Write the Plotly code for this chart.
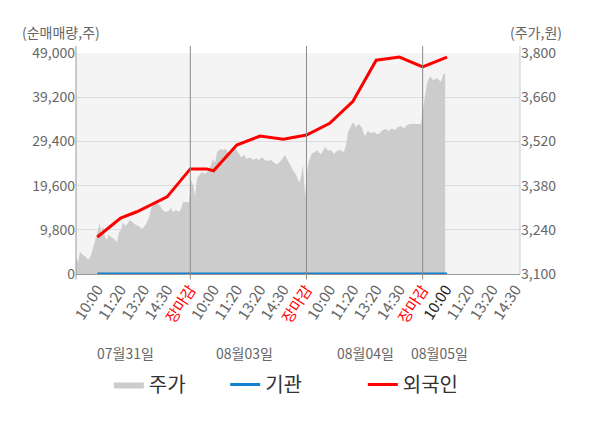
import plotly.graph_objects as go

# x 눈금 (하루 = 5칸)
time_labels = ["10:00", "11:20", "13:20", "14:30", "장마감"]
day_labels = ["07월31일", "08월03일", "08월04일", "08월05일"]
day_label_x = [2.19, 7.35, 12.52, 15.74]
day_close_x = [5, 10, 15]

# 주가 (원)
price_x = [0.08, 0.17, 0.25, 0.38, 0.51, 0.60, 0.73, 0.86, 0.99, 1.11, 1.16, 1.25, 1.33, 1.42,
           1.46, 1.59, 1.72, 1.85, 1.93, 2.02, 2.10, 2.19, 2.28, 2.40, 2.53, 2.66, 2.79, 2.88,
           2.97, 3.09, 3.22, 3.31, 3.44, 3.57, 3.70, 3.83, 3.96, 4.08, 4.17, 4.26, 4.38, 4.51,
           4.60, 4.69, 4.95,
           5.03, 5.12, 5.21, 5.29, 5.42, 5.50, 5.63, 5.76, 5.89, 5.98, 6.07, 6.15, 6.28, 6.41,
           6.54, 6.66, 6.79, 6.93, 7.05, 7.18, 7.31, 7.44, 7.57, 7.70, 7.83, 7.96, 8.08, 8.21,
           8.34, 8.47, 8.60, 8.73, 8.86, 8.99, 9.08, 9.16, 9.29, 9.42, 9.55, 9.64, 9.72, 9.81,
           9.85, 9.94,
           10.03, 10.12, 10.24, 10.37, 10.46, 10.59, 10.67, 10.80, 10.93, 11.06, 11.19, 11.32,
           11.44, 11.61, 11.70, 11.79, 11.92, 12.00, 12.13, 12.26, 12.39, 12.51, 12.64, 12.77,
           12.90, 13.03, 13.16, 13.29, 13.42, 13.55, 13.68, 13.81, 13.94, 14.07, 14.20, 14.33,
           14.46, 14.67, 14.93,
           15.01, 15.09, 15.19, 15.28, 15.36, 15.45, 15.54, 15.62, 15.71, 15.79, 15.88, 15.97]
price_y = [3151, 3138, 3170, 3160, 3154, 3144, 3160, 3195, 3233, 3262, 3230, 3252, 3217, 3208,
           3224, 3217, 3211, 3201, 3233, 3239, 3265, 3252, 3258, 3271, 3262, 3255, 3252, 3243,
           3246, 3258, 3277, 3306, 3322, 3325, 3315, 3300, 3296, 3300, 3309, 3296, 3303, 3296,
           3306, 3328, 3328,
           3398, 3382, 3347, 3404, 3414, 3423, 3417, 3426, 3445, 3464, 3452, 3486, 3496, 3493,
           3496, 3477, 3486, 3499, 3486, 3470, 3477, 3464, 3470, 3461, 3467, 3461, 3470, 3461,
           3458, 3461, 3452, 3448, 3455, 3470, 3477, 3464, 3445, 3429, 3414, 3398, 3391, 3429,
           3445, 3344,
           3429, 3461, 3483, 3486, 3493, 3480, 3483, 3502, 3490, 3493, 3480, 3490,
           3493, 3486, 3508, 3550, 3572, 3581, 3566, 3575, 3562, 3537, 3553, 3547,
           3550, 3543, 3547, 3556, 3559, 3553, 3562, 3556, 3566, 3569, 3562, 3572,
           3575, 3575, 3575,
           3619, 3657, 3705, 3721, 3724, 3714, 3718, 3721, 3714, 3708, 3730, 3737]

# 순매매량 누적 (주)
flow_x = [1, 2, 2.7, 4, 5, 5.7, 6, 7, 8, 9, 10, 11, 12, 13, 14, 15, 16.05]
foreign_y = [8200, 12400, 13800, 17100, 23300, 23300, 22900, 28600, 30600, 29900,
             30800, 33400, 38300, 47400, 48100, 45900, 48100]
inst_y = [0, 0, 0, 0, 0, 0, 0, 0, 0, 0, 0, 0, 0, 0, 0, 0, 0]

vol_ticks = [0, 9800, 19600, 29400, 39200, 49000]
price_ticks = [3100, 3240, 3380, 3520, 3660, 3800]

GRAY = "#666666"
FONT = "Noto Sans CJK KR"

tickvals, ticktext = [], []
for d in range(4):
    n = 5 if d < 3 else 4
    for i in range(n):
        lab = time_labels[i]
        tickvals.append(d * 5 + i + 1)
        if lab == "장마감":
            lab = '<span style="color:#ff0000">' + lab + "</span>"
        elif d == 3 and i == 0:
            lab = '<span style="color:#222222">' + lab + "</span>"
        ticktext.append(lab)

fig = go.Figure()

fig.add_trace(go.Scatter(
    x=price_x, y=price_y, yaxis="y", mode="lines", fill="tozeroy",
    fillcolor="#cccccc", line=dict(width=0, color="#cccccc"), name="주가",
    legend="legend"))

fig.add_trace(go.Scatter(
    x=flow_x, y=inst_y, yaxis="y2", mode="lines",
    line=dict(width=3, color="#1380cf"), name="기관", legend="legend2"))

fig.add_trace(go.Scatter(
    x=flow_x, y=foreign_y, yaxis="y2", mode="lines",
    line=dict(width=3, color="#ff0000"), name="외국인", legend="legend3"))

# 일자 구분선 + 좌우 축선
shapes = []
for xc in day_close_x:
    shapes.append(dict(type="line", xref="x", yref="paper", x0=xc, x1=xc, y0=-0.025, y1=1.032,
                       line=dict(color="#8a8a8a", width=1), layer="above"))
shapes.append(dict(type="line", xref="paper", yref="paper", x0=0, x1=0, y0=-0.025, y1=1.032,
                   line=dict(color="#999999", width=1), layer="above"))
shapes.append(dict(type="line", xref="paper", yref="paper", x0=1, x1=1, y0=0, y1=1.032,
                   line=dict(color="#cccccc", width=1), layer="above"))

annotations = []
for pos, lab in zip(day_label_x, day_labels):
    annotations.append(dict(x=pos, y=-0.357, xref="x", yref="paper", text=lab,
                            yanchor="middle", showarrow=False, font=dict(size=14, color=GRAY)))
annotations.append(dict(x=-0.034, y=1.095, xref="paper", yref="paper", text="(순매매량,주)",
                        xanchor="center", yanchor="middle", showarrow=False,
                        font=dict(size=14, color=GRAY)))
annotations.append(dict(x=1.036, y=1.095, xref="paper", yref="paper", text="(주가,원)",
                        xanchor="center", yanchor="middle", showarrow=False,
                        font=dict(size=14, color=GRAY)))

legend_style = dict(orientation="h", y=-0.50, xanchor="left", yanchor="middle",
                    font=dict(size=20, color="#333333"), itemwidth=30,
                    bgcolor="rgba(0,0,0,0)")

# 페이지 body 여백(8px)만큼 줄인 크기
fig.update_layout(
    width=592, height=420,
    margin=dict(l=68, r=80, t=45, b=154),
    paper_bgcolor="white", plot_bgcolor="#f4f4f4",
    font=dict(family=FONT, color=GRAY, size=14),
    xaxis=dict(range=[0.08, 19.19], tickvals=tickvals, ticktext=ticktext, tickangle=-57,
               showgrid=False, zeroline=False, showline=True, linecolor="#999999",
               ticks="", tickfont=dict(size=15, color=GRAY)),
    yaxis=dict(range=[3100, 3800], tickvals=price_ticks, tickformat=",d", side="right",
               showgrid=True, gridcolor="#dcdcdc", zeroline=False, showline=False,
               ticks="", tickfont=dict(size=14, color=GRAY)),
    yaxis2=dict(range=[0, 49000], tickvals=vol_ticks, tickformat=",d", side="left",
                overlaying="y", showgrid=False, zeroline=False, showline=False,
                ticks="", tickfont=dict(size=14, color=GRAY)),
    legend=dict(x=0.074, **legend_style),
    legend2=dict(x=0.336, **legend_style),
    legend3=dict(x=0.646, **legend_style),
    shapes=shapes,
    annotations=annotations,
    showlegend=True,
)

fig.write_html("out.html")
